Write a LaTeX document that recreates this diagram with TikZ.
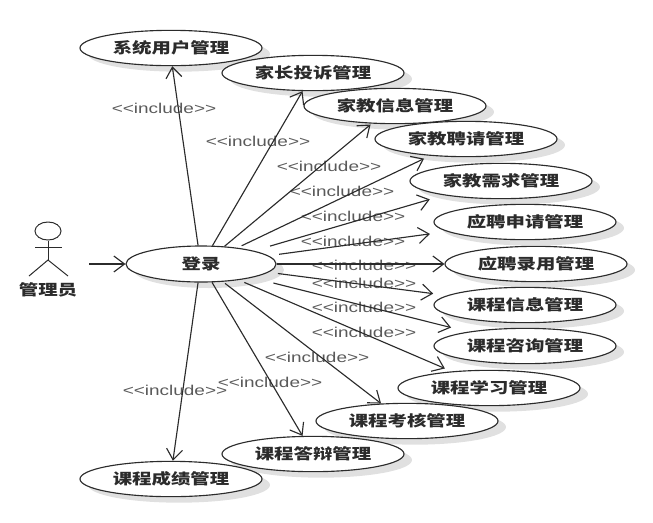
\documentclass[tikz,border=0pt]{standalone}
\usepackage{fontspec}
\setmainfont{Liberation Sans}
\newfontfamily\cjk[FakeStretch=1.3]{Noto Sans CJK SC}
\newfontfamily\lab[FakeStretch=1.33]{Liberation Sans}
\usetikzlibrary{arrows.meta,shapes.geometric,shadows}
\definecolor{ink}{HTML}{2B2B2B}
\definecolor{labelgrey}{HTML}{5A5A5A}
\tikzset{
  usecase/.style={ellipse,draw=ink,line width=0.85pt,fill=white,inner sep=0pt,
    minimum width=136.5pt,minimum height=26.5pt,
    font=\cjk\bfseries\fontsize{11.2pt}{12pt}\selectfont,text=ink,
    general shadow={shadow xshift=6pt,shadow yshift=-4.5pt,fill=black!12}},
  mainuse/.style={usecase,minimum width=112.5pt,minimum height=27pt},
  inc/.style={font=\lab\fontsize{10.7pt}{12pt}\selectfont,text=labelgrey,inner sep=0pt},
  conn/.style={draw=ink,line width=0.85pt,-{Straight Barb[length=8pt,width=12pt,line width=0.85pt]}},
  actorline/.style={draw=ink,line width=0.75pt}
}
\newcommand{\conn}[5]{\draw[conn,shorten <=#4pt,shorten >=#5pt] (login.#1) -- (#2.#3);}
\begin{document}
\begin{tikzpicture}[x=0.75pt,y=-0.75pt]
\useasboundingbox (0,0) rectangle (653,522);
% labels
\node[inc] (l1) at (164,108) {<{}<include>{}>};
\node[inc] (l2) at (258,141) {<{}<include>{}>};
\node[inc] (l3) at (329,166) {<{}<include>{}>};
\node[inc] (l4) at (342,191) {<{}<include>{}>};
\node[inc] (l5) at (353,216) {<{}<include>{}>};
\node[inc] (l6) at (353,241) {<{}<include>{}>};
\node[inc] (l7) at (364,265) {<{}<include>{}>};
\node[inc] (l8) at (364,283) {<{}<include>{}>};
\node[inc] (l9) at (364,307) {<{}<include>{}>};
\node[inc] (l10) at (364,332) {<{}<include>{}>};
\node[inc] (l11) at (317,357) {<{}<include>{}>};
\node[inc] (l12) at (270,382) {<{}<include>{}>};
\node[inc] (l13) at (175,390) {<{}<include>{}>};
% use cases
\node[usecase] (sys) at (171,48) {系统用户管理};
\node[usecase] (parent) at (313,73) {家长投诉管理};
\node[usecase] (info) at (395,106) {家教信息管理};
\node[usecase] (hire) at (466,139) {家教聘请管理};
\node[usecase] (need) at (501,181) {家教需求管理};
\node[usecase] (apply) at (525,222) {应聘申请管理};
\node[usecase] (admit) at (536,264) {应聘录用管理};
\node[usecase] (cinfo) at (525,305) {课程信息管理};
\node[usecase] (cask) at (525,346) {课程咨询管理};
\node[usecase] (clearn) at (489,388) {课程学习管理};
\node[usecase] (cexam) at (407,421) {课程考核管理};
\node[usecase] (cdef) at (313,454) {课程答辩管理};
\node[usecase] (cgrade) at (171,479) {课程成绩管理};
\node[mainuse] (login) at (201,264) {登录};
% actor
\node[ellipse,actorline,inner sep=0pt,minimum width=19.5pt,minimum height=13.5pt] (head) at (48,231) {};
\coordinate (armL) at (35,247);
\coordinate (armR) at (62,247);
\coordinate (hip) at (48,260);
\coordinate (footL) at (29,276);
\coordinate (footR) at (68,276);
\draw[actorline] (head.south) -- (hip);
\draw[actorline] (armL) -- (armR);
\draw[actorline] (footL) -- (hip) -- (footR);
\node[font=\cjk\bfseries\fontsize{11.2pt}{12pt}\selectfont,text=ink,inner sep=0pt] (actorname) at (48,290) {管理员};
\coordinate (actorout) at (89,264);
\draw[conn] (actorout) -- (login.180);
% connectors
\conn{99.5}{sys}{274}{0}{0}
\conn{58.6}{parent}{240}{0}{0}
\conn{37}{info}{217}{0}{1}
\conn{24}{hire}{205.5}{3.5}{5}
\conn{14}{need}{194.5}{12.5}{11}
\conn{7.3}{apply}{187.5}{8}{13}
\conn{0}{admit}{180}{0}{0}
\conn{353.5}{cinfo}{173.3}{7}{10.5}
\conn{345}{cask}{166}{16.5}{13}
\conn{337.4}{clearn}{156}{4.5}{5.5}
\conn{321.7}{cexam}{146}{2}{0}
\conn{301}{cdef}{120}{0}{0}
\conn{261}{cgrade}{84}{0}{0}
\end{tikzpicture}
\end{document}
